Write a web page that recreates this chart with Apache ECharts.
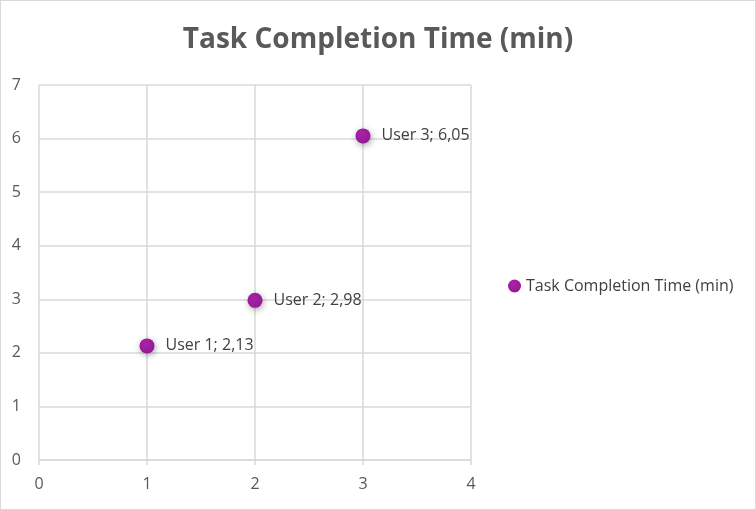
<!DOCTYPE html>
<html>
<head>
<meta charset="utf-8">
<script src="https://cdn.jsdelivr.net/npm/echarts@6/dist/echarts.min.js"></script>
<style>
  html, body { margin: 0; padding: 0; background: #fff; }
  #chart { width: 756px; height: 510px; box-sizing: border-box; border: 1px solid #d9d9d9; }
</style>
</head>
<body>
<div id="chart"></div>
<script>
const users = ['User 1', 'User 2', 'User 3']
const xValues = [1, 2, 3]
const times = [2.13, 2.98, 6.05]
const seriesName = 'Task Completion Time (min)'

const chart = echarts.init(document.getElementById('chart'), null, { renderer: 'canvas' })

const fmt = v => v.toFixed(2).replace('.', ',')
const labelFont = '"Open Sans", sans-serif'

chart.setOption({
  backgroundColor: '#fff',
  textStyle: { fontFamily: '"Open Sans", sans-serif' },
  title: {
    text: seriesName,
    left: 'center',
    top: 20,
    textStyle: { fontSize: 28, fontWeight: 'bold', color: '#595959', fontFamily: '"Open Sans", sans-serif' }
  },
  legend: {
    data: [seriesName],
    left: 507,
    top: 277,
    padding: 0,
    icon: 'circle',
    itemWidth: 13,
    itemHeight: 13,
    itemGap: 3,
    textStyle: { fontSize: 16, color: '#404040', fontFamily: labelFont }
  },
  grid: { left: 38, right: 284, top: 84, bottom: 49 },
  xAxis: {
    type: 'value',
    min: 0,
    max: 4,
    interval: 1,
    axisLine: { show: true, lineStyle: { color: '#d9d9d9', width: 1.5 } },
    axisTick: { show: true, length: 5, lineStyle: { color: '#d9d9d9', width: 1.5 } },
    axisLabel: { color: '#595959', fontSize: 16, margin: 16 },
    splitLine: { show: true, lineStyle: { color: '#d9d9d9', width: 1.5 } }
  },
  yAxis: {
    type: 'value',
    min: 0,
    max: 7,
    interval: 1,
    axisLine: { show: false },
    axisTick: { show: false },
    axisLabel: { color: '#595959', fontSize: 16, margin: 18 },
    splitLine: { show: true, lineStyle: { color: '#d9d9d9', width: 1.5 } }
  },
  series: [{
    name: seriesName,
    type: 'scatter',
    symbolSize: 15,
    data: xValues.map((x, i) => ({ value: [x, times[i]], name: users[i] })),
    itemStyle: {
      opacity: 1,
      color: {
        type: 'radial', x: 0.4, y: 0.35, r: 0.7,
        colorStops: [{ offset: 0, color: '#aa22a8' }, { offset: 1, color: '#931893' }]
      },
      shadowBlur: 6,
      shadowOffsetX: 1,
      shadowOffsetY: 2,
      shadowColor: 'rgba(0,0,0,0.35)'
    },
    label: {
      show: true,
      position: 'right',
      distance: 11,
      color: '#404040',
      fontSize: 16,
      fontFamily: labelFont,
      formatter: p => p.name + '; ' + fmt(p.value[1])
    }
  }]
})
</script>
</body>
</html>
